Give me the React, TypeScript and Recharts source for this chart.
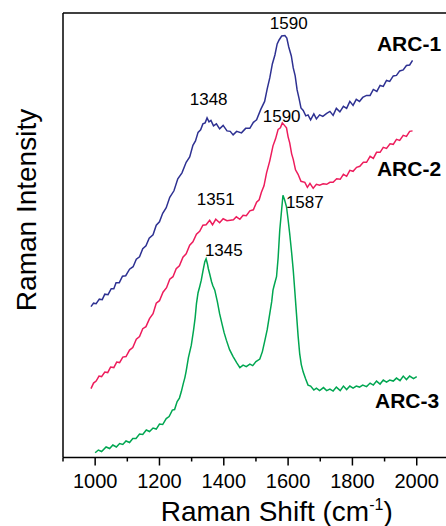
import React from 'react';
import { LineChart, Line, XAxis, YAxis, ReferenceLine, ReferenceDot } from 'recharts';

// Raman shift (cm-1) and intensity (a.u.)
const arc1Shift = [987, 995, 1003, 1013, 1022, 1030, 1040, 1050, 1058, 1065, 1075, 1085, 1095, 1107, 1118, 1128, 1138, 1148, 1158, 1168, 1180, 1190, 1200, 1210, 1221, 1232, 1245, 1257, 1270, 1283, 1294, 1304, 1312, 1320, 1328, 1335, 1342, 1348, 1354, 1360, 1368, 1377, 1387, 1398, 1410, 1420, 1429, 1440, 1455, 1468, 1481, 1492, 1502, 1515, 1527, 1535, 1543, 1551, 1559, 1566, 1572, 1580, 1590, 1596, 1602, 1610, 1616, 1622, 1628, 1634, 1640, 1647, 1655, 1662, 1670, 1680, 1688, 1698, 1708, 1720, 1730, 1740, 1750, 1761, 1772, 1782, 1792, 1802, 1812, 1822, 1832, 1844, 1855, 1865, 1876, 1886, 1896, 1906, 1916, 1927, 1937, 1947, 1958, 1968, 1978, 1987];
const arc1Intensity = [151, 154.5, 154, 158.5, 158, 163.5, 163, 169, 169, 175, 175, 181.5, 182, 188.5, 191, 198.5, 201, 209, 212, 219.5, 223, 232.5, 236, 244.5, 250, 260.5, 267, 279, 285, 295.5, 301, 312.5, 317, 325.5, 328, 334, 335, 340, 336, 337.5, 332, 334, 329, 332.5, 327, 326.5, 323, 326.5, 325, 329.5, 329.5, 335.5, 338, 348.5, 356.5, 369, 380, 394, 403, 414, 418, 422, 422.5, 420, 411, 402, 390, 382, 368, 359.5, 350, 347.5, 342, 343, 338, 344, 339, 343, 341.5, 344.5, 346.5, 342.5, 349.5, 346, 351.5, 349.5, 356.5, 352.5, 358.5, 356.5, 360.5, 362.5, 362.5, 368.5, 366.5, 372.5, 371.5, 377.5, 376.5, 382, 382.5, 387, 388, 392.5, 393, 397.5];

const arc2Shift = [987, 995, 1003, 1012, 1020, 1030, 1039, 1048, 1058, 1067, 1076, 1086, 1096, 1107, 1117, 1128, 1138, 1148, 1158, 1169, 1180, 1190, 1200, 1211, 1222, 1232, 1242, 1252, 1262, 1273, 1283, 1294, 1304, 1315, 1325, 1335, 1345, 1356, 1365, 1375, 1387, 1398, 1410, 1420, 1430, 1439, 1450, 1460, 1470, 1481, 1492, 1502, 1510, 1517, 1525, 1533, 1543, 1553, 1561, 1569, 1576, 1582, 1590, 1595, 1600, 1605, 1611, 1616, 1623, 1631, 1640, 1652, 1660, 1668, 1678, 1688, 1698, 1709, 1720, 1730, 1740, 1751, 1762, 1772, 1782, 1792, 1802, 1813, 1823, 1834, 1844, 1855, 1865, 1875, 1886, 1896, 1906, 1917, 1927, 1937, 1947, 1958, 1968, 1978, 1987];
const arc2Intensity = [69, 74.5, 76.5, 81.5, 81, 85.5, 85, 90.5, 90, 95.5, 95, 100.5, 101, 107.5, 110, 118.5, 121, 129, 131, 139, 144, 154.5, 157, 165.5, 170, 178.5, 181, 189, 192, 200.5, 204, 212.5, 216, 223.5, 226.5, 232.5, 233, 237.5, 233, 238.5, 235, 239, 237, 237.5, 238, 241, 238.5, 242.5, 242, 247, 248, 255.5, 258, 265.5, 272, 285, 297, 312, 319, 328.5, 330, 335, 332, 330, 321, 315, 304, 298.5, 288, 283.5, 276.5, 275.5, 270.5, 274.5, 269.5, 273.5, 272.5, 274, 273.5, 275.5, 275.5, 279, 278.5, 283.5, 281.5, 287.5, 286.5, 290.5, 291.5, 295.5, 295.5, 301.5, 299.5, 305.5, 305.5, 310.5, 309.5, 314, 313.5, 318.5, 317.5, 322.5, 321.5, 326.5, 327];

const arc3Shift = [1000, 1010, 1020, 1034, 1045, 1055, 1066, 1076, 1086, 1096, 1107, 1117, 1127, 1138, 1148, 1159, 1169, 1180, 1190, 1200, 1210, 1221, 1230, 1240, 1247, 1255, 1262, 1268, 1274, 1279, 1283, 1290, 1299, 1306, 1311, 1315, 1320, 1325, 1330, 1336, 1341, 1345, 1349, 1352, 1356, 1362, 1366, 1372, 1380, 1387, 1395, 1401, 1408, 1418, 1429, 1440, 1450, 1460, 1470, 1481, 1490, 1500, 1512, 1520, 1528, 1535, 1543, 1549, 1553, 1558, 1564, 1569, 1574, 1579, 1584, 1589, 1595, 1600, 1605, 1611, 1616, 1621, 1626, 1631, 1636, 1641, 1647, 1654, 1662, 1670, 1680, 1688, 1698, 1710, 1720, 1730, 1740, 1750, 1762, 1772, 1782, 1792, 1802, 1812, 1822, 1832, 1844, 1855, 1865, 1875, 1886, 1896, 1906, 1916, 1927, 1937, 1948, 1958, 1968, 1978, 1990, 2000];
const arc3Intensity = [4.8, 7.5, 6, 10.5, 9, 12.5, 10.5, 14, 13, 16.5, 15, 19, 19, 23.5, 23, 27.5, 26, 29.5, 28.5, 33.5, 33, 39, 41, 47.5, 48, 56, 59.5, 66, 74, 80, 86.5, 100, 112.5, 127.5, 140, 154, 165, 171, 177.5, 188, 196, 199, 194, 189, 184, 176, 172, 167.5, 156, 144, 133, 125, 117.5, 108, 101, 95, 90, 92.5, 91, 93.5, 92, 96, 98.5, 106, 117.5, 128, 144, 156, 167.5, 174, 181, 200, 227.5, 245, 262.5, 258, 251, 238, 224, 205, 187.5, 166, 144, 122, 104, 93, 85.5, 79, 72.5, 71.5, 67.5, 69.5, 67, 70, 67, 68.5, 66.5, 70.5, 67, 71.5, 68, 71.5, 69.5, 71.5, 70.5, 72.5, 71, 74.5, 72.5, 76.5, 73.5, 77.5, 75.5, 77.5, 76.5, 79.5, 77, 81.5, 78, 81.5, 79, 81];

const xTicks = [900, 1000, 1100, 1200, 1300, 1400, 1500, 1600, 1700, 1800, 1900, 2000];

// Annotations: text, shift, intensity (anchor in data coordinates)
const peakTexts = ['1590', '1348', '1590', '1351', '1345', '1587'];
const peakShift = [1602, 1353, 1580, 1375, 1400, 1652];
const peakIntensity = [434.5, 358.5, 341.5, 258.5, 207.5, 255.5];

const seriesNames = ['ARC-1', 'ARC-2', 'ARC-3'];
const seriesLabelShift = [1976, 1976, 1970];
const seriesLabelIntensity = [414.5, 289.5, 57.5];
const seriesColors = ['#2e3192', '#ed1c5c', '#00a651'];

const zip = (xs: number[], ys: number[]) => xs.map((x, i) => ({ x, y: ys[i] }));
const arc1 = zip(arc1Shift, arc1Intensity);
const arc2 = zip(arc2Shift, arc2Intensity);
const arc3 = zip(arc3Shift, arc3Intensity);

const FONT = '"Liberation Sans", Arial, Helvetica, sans-serif';

const XTick = (props: any) => {
  const { x, y, payload } = props;
  const v = payload.value;
  const major = v % 200 === 0;
  return (
    <g>
      <line x1={x} x2={x} y1={y} y2={y + (major ? 8 : 4)} stroke="#000" strokeWidth={1.5} />
      {major && (
        <text x={x} y={y + 30} textAnchor="middle" fontSize={20} fontFamily={FONT} fill="#000">
          {v}
        </text>
      )}
    </g>
  );
};

const makeText = (text: string, size: number, bold: boolean) => (p: any) => (
  <text
    x={p.cx}
    y={p.cy}
    textAnchor="middle"
    dominantBaseline="central"
    fontSize={size}
    fontWeight={bold ? 'bold' : 'normal'}
    fontFamily={FONT}
    fill="#000"
  >
    {text}
  </text>
);

export default function App() {
  return (
    <div style={{ width: 446, height: 526, overflow: 'hidden' }}>
      <style>{'html,body{margin:0;padding:0;overflow:hidden}'}</style>
      <LineChart width={446} height={526} margin={{ top: 13, right: 0, bottom: 8.5, left: 8 }}>
        <XAxis
          type="number"
          dataKey="x"
          domain={[900, 2091]}
          allowDataOverflow
          ticks={xTicks}
          interval={0}
          tickSize={0}
          tickMargin={0}
          tickLine={false}
          tick={<XTick />}
          height={60}
          axisLine={{ stroke: '#000', strokeWidth: 1.5 }}
          label={{
            content: () => (
              <text x={276.7} y={521} textAnchor="middle" fontSize={28} fontFamily={FONT} fill="#000">
                Raman Shift (cm
                <tspan fontSize={16} dy={-11}>-1</tspan>
                <tspan dy={11}>)</tspan>
              </text>
            ),
          }}
        />
        <YAxis
          type="number"
          domain={[0, 445]}
          allowDataOverflow
          tick={false}
          tickLine={false}
          width={55}
          axisLine={{ stroke: '#000', strokeWidth: 1.5 }}
          label={{
            content: () => (
              <text
                x={35.7}
                y={210}
                transform="rotate(-90, 35.7, 210)"
                textAnchor="middle"
                fontSize={28}
                fontFamily={FONT}
                fill="#000"
              >
                Raman Intensity
              </text>
            ),
          }}
        />
        <ReferenceLine y={445} stroke="#000" strokeWidth={1.5} />
        <Line data={arc1} dataKey="y" stroke={seriesColors[0]} strokeWidth={1.5} dot={false} isAnimationActive={false} />
        <Line data={arc2} dataKey="y" stroke={seriesColors[1]} strokeWidth={1.5} dot={false} isAnimationActive={false} />
        <Line data={arc3} dataKey="y" stroke={seriesColors[2]} strokeWidth={1.5} dot={false} isAnimationActive={false} />
        {peakTexts.map((t, i) => (
          <ReferenceDot key={'p' + i} x={peakShift[i]} y={peakIntensity[i]} r={0} shape={makeText(t, 17, false)} />
        ))}
        {seriesNames.map((t, i) => (
          <ReferenceDot
            key={'s' + i}
            x={seriesLabelShift[i]}
            y={seriesLabelIntensity[i]}
            r={0}
            shape={makeText(t, 21, true)}
          />
        ))}
      </LineChart>
    </div>
  );
}
